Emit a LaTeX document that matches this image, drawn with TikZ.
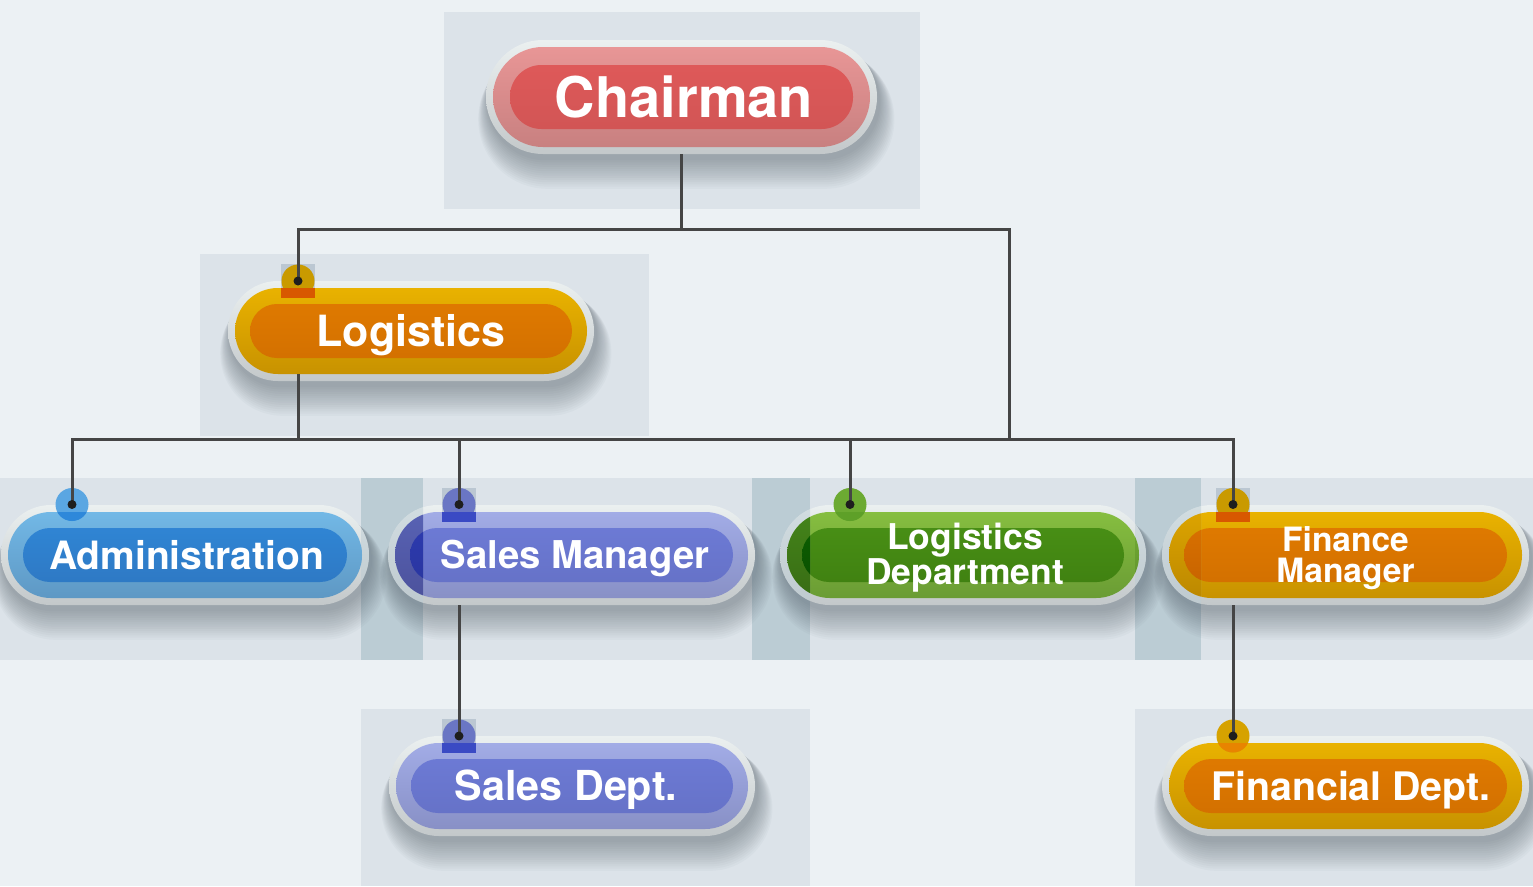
\documentclass[tikz,border=0pt]{standalone}
\usepackage{fontspec}
\setmainfont{TeX Gyre Heros}
\pgfdeclarelayer{panels}
\pgfdeclarelayer{shadow}
\pgfdeclarelayer{halo}
\pgfdeclarelayer{front}
\pgfsetlayers{panels,shadow,halo,main,front}

\definecolor{bgc}{HTML}{ECF1F4}
\definecolor{panelc}{HTML}{DCE3E9}
\definecolor{stripc}{HTML}{BBCCD4}
\definecolor{haloT}{HTML}{EBF0F0}
\definecolor{haloB}{HTML}{C3C8CA}
\definecolor{shadowc}{HTML}{3A4650}
\definecolor{connc}{HTML}{454545}
\definecolor{dotblack}{HTML}{1E1E1E}
\definecolor{sqcol}{HTML}{7F93A8}
% chairman
\definecolor{chT}{HTML}{E89696}\definecolor{chB}{HTML}{C88080}
\definecolor{chiT}{HTML}{E25A5A}\definecolor{chiB}{HTML}{CE5454}
% orange
\definecolor{orT}{HTML}{E9B200}\definecolor{orB}{HTML}{C89200}
\definecolor{oriT}{HTML}{E27C00}\definecolor{oriB}{HTML}{D06E00}
% blue
\definecolor{blT}{HTML}{72B8E6}\definecolor{blB}{HTML}{5E98C4}
\definecolor{bliT}{HTML}{3088D8}\definecolor{bliB}{HTML}{2E76C0}
% violet
\definecolor{viT}{HTML}{A2ACE6}\definecolor{viB}{HTML}{8890C6}
\definecolor{viiT}{HTML}{6E7CD8}\definecolor{viiB}{HTML}{6470C4}
% green
\definecolor{grT}{HTML}{86BE40}\definecolor{grB}{HTML}{6A9C34}
\definecolor{griT}{HTML}{4A9216}\definecolor{griB}{HTML}{3E7E10}
% dark strip versions
\definecolor{dviT}{HTML}{5862B4}\definecolor{dviB}{HTML}{4C529C}
\definecolor{dviiT}{HTML}{2C3AAE}\definecolor{dviiB}{HTML}{2A36A0}
\definecolor{dgrT}{HTML}{44841A}\definecolor{dgrB}{HTML}{386C14}
\definecolor{dgriT}{HTML}{0C5E02}\definecolor{dgriB}{HTML}{0A5000}
\definecolor{egrT}{HTML}{74B034}\definecolor{egrB}{HTML}{5E8E2C}
\definecolor{dorT}{HTML}{DCA400}\definecolor{dorB}{HTML}{BC8800}
\definecolor{doriT}{HTML}{D87000}\definecolor{doriB}{HTML}{C86400}
% dot colours
\definecolor{orA}{HTML}{C99A00}\definecolor{orBB}{HTML}{D85800}
\definecolor{blA}{HTML}{5AA6E2}\definecolor{blBB}{HTML}{2E88DA}
\definecolor{viA}{HTML}{6A76C4}\definecolor{viBB}{HTML}{3A4AC4}
\definecolor{grA}{HTML}{6CAA32}\definecolor{grBB}{HTML}{5EA028}
\definecolor{fdA}{HTML}{D6A200}\definecolor{fdBB}{HTML}{E88400}

\newcommand\pillhalo[2]{%
  \begin{pgfonlayer}{shadow}
    \foreach \i in {1,...,14}{
      \fill[shadowc,opacity=0.03,rounded corners={#2+0.9pt*\i}]
        ([shift={(-7pt-0.9pt*\i+2pt+0.2pt*\i,-7pt-0.9pt*\i-4pt-1.3pt*\i)}]#1.south west) rectangle
        ([shift={(7pt+0.9pt*\i+2pt+0.2pt*\i,7pt+0.9pt*\i-4pt-1.3pt*\i)}]#1.north east);
    }
  \end{pgfonlayer}
  \begin{pgfonlayer}{halo}
    \shade[top color=haloT,bottom color=haloB,rounded corners=#2]
      ([shift={(-7pt,-7pt)}]#1.south west) rectangle ([shift={(7pt,7pt)}]#1.north east);
  \end{pgfonlayer}}

\newcommand\stripdark[7]{%
  \begin{scope}
    \clip (#2,478) rectangle (#3,660);
    \fill[stripc,opacity=0.5,rounded corners=49.9pt]
      ([shift={(-7pt,-7pt)}]#1.south west) rectangle ([shift={(7pt,7pt)}]#1.north east);
    \shade[top color=#4,bottom color=#5,rounded corners=42.9pt] (#1.south west) rectangle (#1.north east);
    \shade[top color=#6,bottom color=#7,rounded corners=26.9pt]
      ([shift={(15pt,16pt)}]#1.south west) rectangle ([shift={(-15pt,-16pt)}]#1.north east);
  \end{scope}}

\newcommand\jointbase[5]{%
  \begin{pgfonlayer}{front}
    \ifnum#5=1 \fill[sqcol,opacity=0.35] ([shift={(-17pt,-17pt)}]#1) rectangle ([shift={(17pt,17pt)}]#1);\fi
    \fill[#3] (#1) circle[radius=16.5pt];
    \begin{scope}
      \clip[rounded corners=42.9pt] (#2.south west) rectangle (#2.north east);
      \ifnum#5=1 \fill[#4] ([shift={(-17pt,-17pt)}]#1) rectangle ([shift={(17pt,17pt)}]#1);\else\fill[#4] (#1) circle[radius=16.5pt];\fi
    \end{scope}
  \end{pgfonlayer}}

\begin{document}
\begin{tikzpicture}[x=1pt,y=-1pt,
  pill/.style={rectangle,inner sep=0pt,outer sep=0pt,minimum width=353pt,minimum height=86pt,
    rounded corners=42.9pt,text=white,align=center},
  skin/.style n args={4}{top color=#1,bottom color=#2,
    path picture={\shade[top color=#3,bottom color=#4,rounded corners=26.9pt]
      ([shift={(15pt,-16pt)}]path picture bounding box.north west) rectangle
      ([shift={(-15pt,16pt)}]path picture bounding box.south east);}},
  bigskin/.style n args={4}{top color=#1,bottom color=#2,
    path picture={\shade[top color=#3,bottom color=#4,rounded corners=31.4pt]
      ([shift={(17pt,-18pt)}]path picture bounding box.north west) rectangle
      ([shift={(-17pt,18pt)}]path picture bounding box.south east);}},
  conn/.style={draw=connc,line width=3pt}]
\useasboundingbox (0,0) rectangle (1533,886);

\begin{pgfonlayer}{panels}
  \fill[bgc] (0,0) rectangle (1533,886);
  \fill[panelc] (444,12) rectangle (920,209);
  \fill[panelc] (200,254) rectangle (649,436);
  \fill[panelc] (0,478) rectangle (1533,660);
  \fill[stripc] (361,478) rectangle (423,660);
  \fill[stripc] (752,478) rectangle (810,660);
  \fill[stripc] (1135,478) rectangle (1201,660);
  \fill[panelc] (361,709) rectangle (810,886);
  \fill[panelc] (1135,709) rectangle (1533,886);
\end{pgfonlayer}

% nodes
\node[pill,minimum width=377pt,minimum height=100pt,rounded corners=49.9pt,
  bigskin={chT}{chB}{chiT}{chiB},
  font=\bfseries\fontsize{56pt}{56pt}\selectfont,text height=40.3pt,text depth=0pt]
  (chair) at (681.5,97) {\hspace*{5pt}Chairman};
\node[pill,minimum width=352pt,skin={orT}{orB}{oriT}{oriB},
  font=\bfseries\fontsize{43pt}{43pt}\selectfont,text height=31pt,text depth=0pt]
  (logi) at (411,331) {Logistics};
\node[pill,minimum width=354pt,skin={blT}{blB}{bliT}{bliB},
  font=\bfseries\fontsize{39pt}{39pt}\selectfont,text height=28pt,text depth=0pt]
  (admin) at (185,555) {\hspace*{3pt}Administration};
\node[pill,skin={viT}{viB}{viiT}{viiB},
  font=\bfseries\fontsize{38.3pt}{38.3pt}\selectfont,text height=27.6pt,text depth=0pt]
  (salesm) at (571.5,555) {\hspace*{7pt}Sales Manager};
\node[pill,minimum width=352pt,skin={grT}{grB}{griT}{griB},
  font=\bfseries\fontsize{35.5pt}{32.5pt}\selectfont,text height=58pt,text depth=0pt]
  (logd) at (963,555) {\hspace*{4pt}Logistics\\\hspace*{4pt}Department};
\node[pill,skin={orT}{orB}{oriT}{oriB},
  font=\bfseries\fontsize{33.5pt}{31pt}\selectfont,text height=55pt,text depth=0pt]
  (finm) at (1345.5,555) {Finance\\Manager};
\node[pill,minimum width=352pt,skin={viT}{viB}{viiT}{viiB},
  font=\bfseries\fontsize{41.3pt}{41.3pt}\selectfont,text height=29.7pt,text depth=0pt]
  (salesd) at (572,786) {Sales Dept.\hspace*{12pt}};
\node[pill,skin={orT}{orB}{oriT}{oriB},
  font=\bfseries\fontsize{39.3pt}{39.3pt}\selectfont,text height=28.3pt,text depth=0pt]
  (find) at (1345.5,786) {\hspace*{11pt}Financial Dept.};

% halos and shadows
\pillhalo{chair}{56.9pt}
\pillhalo{logi}{49.9pt}
\pillhalo{admin}{49.9pt}
\pillhalo{salesm}{49.9pt}
\pillhalo{logd}{49.9pt}
\pillhalo{finm}{49.9pt}
\pillhalo{salesd}{49.9pt}
\pillhalo{find}{49.9pt}

% darker parts inside the overlap strips
\stripdark{admin}{361}{423}{blT}{blB}{bliT}{bliB}
\stripdark{salesm}{361}{423}{dviT}{dviB}{dviiT}{dviiB}
\stripdark{logd}{752}{810}{dgrT}{dgrB}{dgriT}{dgriB}
\stripdark{logd}{1135}{1201}{egrT}{egrB}{griT}{griB}
\stripdark{finm}{1135}{1201}{dorT}{dorB}{doriT}{doriB}

% joint points
\coordinate (logi-dot) at (298,281);
\coordinate (admin-dot) at (72,504.5);
\coordinate (salesm-dot) at (459,504.5);
\coordinate (logd-dot) at (850,504.5);
\coordinate (finm-dot) at (1233,504.5);
\coordinate (salesd-dot) at (459,736);
\coordinate (find-dot) at (1233,736);
\coordinate (busy) at (0,229);
\coordinate (jr) at (1009,439);

\jointbase{logi-dot}{logi}{orA}{orBB}{1}
\jointbase{admin-dot}{admin}{blA}{blBB}{0}
\jointbase{salesm-dot}{salesm}{viA}{viBB}{1}
\jointbase{logd-dot}{logd}{grA}{grBB}{0}
\jointbase{finm-dot}{finm}{orA}{orBB}{1}
\jointbase{salesd-dot}{salesd}{viA}{viBB}{1}
\jointbase{find-dot}{find}{fdA}{fdBB}{0}

% connectors
\begin{pgfonlayer}{front}
  \draw[conn] ([yshift=-7pt]chair.south) -- (chair.south |- busy) -| (logi-dot);
  \draw[conn] (chair.south |- busy) -| (jr);
  \draw[conn] (logi.south -| logi-dot) -- (logi-dot |- jr);
  \draw[conn] (admin-dot) |- (jr) -| (finm-dot);
  \draw[conn] (salesm-dot) -- (salesm-dot |- jr);
  \draw[conn] (logd-dot) -- (logd-dot |- jr);
  \draw[conn] ([yshift=-7pt]salesm.south -| salesm-dot) -- (salesd-dot);
  \draw[conn] ([yshift=-7pt]finm.south -| finm-dot) -- (find-dot);
  \foreach \d in {logi-dot,admin-dot,salesm-dot,logd-dot,finm-dot,salesd-dot,find-dot}
    \fill[dotblack] (\d) circle[radius=4.5pt];
\end{pgfonlayer}
\end{tikzpicture}
\end{document}
